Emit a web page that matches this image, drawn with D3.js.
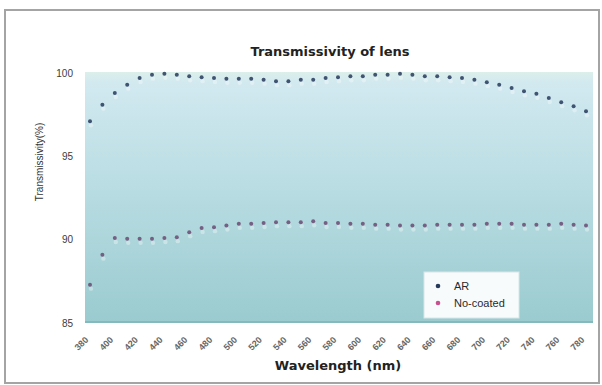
<!DOCTYPE html>
<html>
<head>
<meta charset="utf-8">
<script src="https://cdn.jsdelivr.net/npm/d3@7"></script>
<style>
  body { margin: 0; background: #fff; }
  text { font-family: "Liberation Sans", Arial, sans-serif; }
</style>
</head>
<body>
<div class="chart"></div>
<script>
// wavelength (nm), one reading every 10 nm
var wavelengths = d3.range(380, 790, 10);
var tickLabels = d3.range(380, 790, 20);
var yTicks = [85, 90, 95, 100];

var arValues = [97.1, 98.1, 98.8, 99.3, 99.7, 99.9, 99.95, 99.9, 99.8, 99.75,
  99.7, 99.65, 99.65, 99.65, 99.6, 99.5, 99.5, 99.6, 99.6, 99.7,
  99.75, 99.8, 99.8, 99.9, 99.9, 99.95, 99.9, 99.8, 99.8, 99.75,
  99.7, 99.6, 99.45, 99.3, 99.1, 98.9, 98.75, 98.5, 98.25, 98.0, 97.7];

var noCoatedValues = [87.3, 89.1, 90.1, 90.05, 90.05, 90.05, 90.1, 90.15, 90.45, 90.7,
  90.75, 90.85, 90.95, 90.95, 91.0, 91.05, 91.05, 91.05, 91.1, 91.0,
  91.0, 90.95, 90.95, 90.9, 90.9, 90.85, 90.85, 90.85, 90.9, 90.9,
  90.9, 90.9, 90.95, 90.95, 90.95, 90.9, 90.9, 90.9, 90.95, 90.9, 90.85];

var seriesNames = ["AR", "No-coated"];
var seriesColors = ["#263a5c", "#6b4a72"];
var legendColors = ["#263a5c", "#c8508e"];

var svgWidth = 602, svgHeight = 385;
var plot = { left: 85, right: 593, top: 72, bottom: 323 };

var svg = d3.select(".chart").append("svg")
  .attr("width", svgWidth)
  .attr("height", svgHeight);

// outer frame
svg.append("rect")
  .attr("x", 5).attr("y", 10)
  .attr("width", 594).attr("height", 373)
  .attr("fill", "#fff")
  .attr("stroke", "#a4a4a4")
  .attr("stroke-width", 2);

var defs = svg.append("defs");
var grad = defs.append("linearGradient")
  .attr("id", "bg").attr("x1", 0).attr("y1", 0).attr("x2", 0).attr("y2", 1);
grad.append("stop").attr("offset", "0%").attr("stop-color", "#dcefe9");
grad.append("stop").attr("offset", "4%").attr("stop-color", "#d2e9f0");
grad.append("stop").attr("offset", "45%").attr("stop-color", "#b9dde3");
grad.append("stop").attr("offset", "100%").attr("stop-color", "#9acbcf");

svg.append("rect")
  .attr("x", plot.left).attr("y", plot.top)
  .attr("width", plot.right - plot.left)
  .attr("height", plot.bottom - plot.top)
  .attr("fill", "url(#bg)");

svg.append("line")
  .attr("x1", plot.left).attr("x2", plot.right)
  .attr("y1", plot.bottom - 1).attr("y2", plot.bottom - 1)
  .attr("stroke", "#84b9bd").attr("stroke-width", 2);

var x = d3.scaleLinear().domain([380, 780]).range([90, 586]);
var y = d3.scaleLinear().domain([85, 100]).range([323, 73]);

// y tick labels
var yAxis = d3.axisLeft(y).tickValues(yTicks).tickSize(0).tickPadding(0);
var yg = svg.append("g")
  .attr("transform", "translate(73,0)")
  .call(yAxis);
yg.select(".domain").remove();
yg.selectAll("text")
  .attr("fill", "#3c3c3c")
  .style("font-size", "10px")
  .style("font-family", "'Liberation Sans Narrow', 'Liberation Sans', sans-serif");

// x tick labels, rotated
var xAxis = d3.axisBottom(x).tickValues(tickLabels).tickSize(0).tickPadding(0);
var xg = svg.append("g")
  .attr("transform", "translate(-6,336)")
  .call(xAxis);
xg.select(".domain").remove();
xg.selectAll("text")
  .attr("fill", "#666")
  .style("font-size", "9px")
  .style("font-weight", "bold")
  .attr("text-anchor", "end")
  .attr("dy", "0.7em")
  .attr("transform", "rotate(-45)");

// series
var series = [arValues, noCoatedValues];
series.forEach(function (vals, i) {
  var pts = wavelengths.map(function (w, j) { return [w, vals[j]]; });
  // pale halo below the points
  svg.append("g").selectAll("circle.halo")
    .data(pts).enter().append("circle")
    .attr("cx", d => x(d[0]) + 1)
    .attr("cy", d => y(d[1]) + 4)
    .attr("r", 2.2)
    .attr("fill", "#ffffff")
    .attr("opacity", 0.35);
  svg.append("g").selectAll("circle.pt")
    .data(pts).enter().append("circle")
    .attr("cx", d => x(d[0]))
    .attr("cy", d => y(d[1]))
    .attr("r", 2)
    .attr("fill", seriesColors[i])
    .attr("opacity", 0.85);
});

// legend
var legend = svg.append("g").attr("transform", "translate(424,272)");
legend.append("rect")
  .attr("width", 95).attr("height", 46)
  .attr("fill", "#f7fbfb")
  .attr("stroke", "#d9e6e8");
seriesNames.forEach(function (name, i) {
  legend.append("circle")
    .attr("cx", 14).attr("cy", 14 + i * 17)
    .attr("r", 2.3)
    .attr("fill", legendColors[i]);
  legend.append("text")
    .attr("x", 30).attr("y", 18 + i * 17)
    .attr("fill", "#2a2a2a")
    .style("font-size", "11px")
    .text(name);
});

// titles
svg.append("text")
  .attr("x", 330).attr("y", 56)
  .attr("text-anchor", "middle")
  .attr("fill", "#222")
  .style("font-family", "'DejaVu Sans', sans-serif")
  .style("font-size", "13px")
  .style("font-weight", "bold")
  .text("Transmissivity of lens");

svg.append("text")
  .attr("x", 338).attr("y", 370)
  .attr("text-anchor", "middle")
  .attr("fill", "#222")
  .style("font-family", "'DejaVu Sans', sans-serif")
  .style("font-size", "13px")
  .style("font-weight", "bold")
  .text("Wavelength (nm)");

svg.append("text")
  .attr("transform", "translate(43,162) rotate(-90)")
  .attr("text-anchor", "middle")
  .attr("fill", "#333")
  .style("font-size", "10px")
  .text("Transmissivity(%)");
</script>
</body>
</html>
